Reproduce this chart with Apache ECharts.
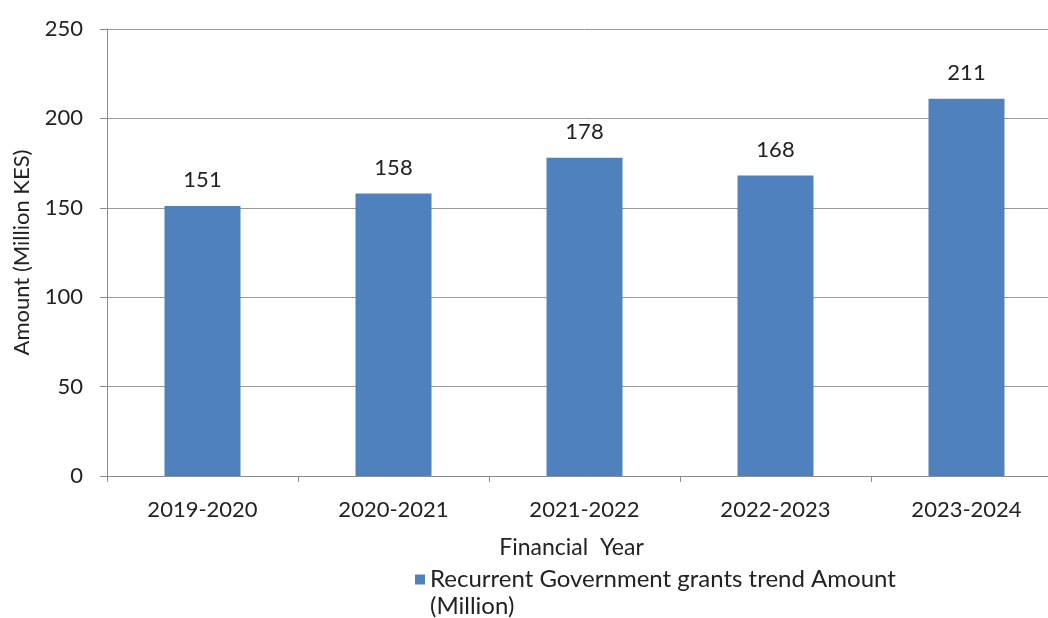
<!DOCTYPE html>
<html><head><meta charset="utf-8">
<script src="https://cdn.jsdelivr.net/npm/echarts@6/dist/echarts.min.js"></script>
<style>html,body{margin:0;padding:0;background:#fff;overflow:hidden}#c{width:1070px;height:618px}</style>
</head><body><div id="c"></div>
<script>
const categories = ['2019-2020','2020-2021','2021-2022','2022-2023','2023-2024'];
const amounts = [151, 158, 178, 168, 211];
const seriesName = 'Recurrent Government grants trend Amount\n(Million)';
const FONT = 'Lato';
const chart = echarts.init(document.getElementById('c'));
chart.setOption({
  animation: false,
  backgroundColor: '#fff',
  textStyle: {fontFamily: FONT},
  grid: {left: 107, top: 29, width: 955, height: 447, containLabel: false},
  legend: {
    data: [seriesName], left: 415, top: 566, padding: 0,
    icon: 'path://M0,0H10V10H0Z M0,37L10,37', itemWidth: 10, itemHeight: 37, itemGap: 8,
    textStyle: {fontFamily: FONT, fontSize: 24, color: '#222', lineHeight: 27}
  },
  xAxis: {
    type: 'category', data: categories,
    name: 'Financial  Year', nameLocation: 'middle', nameGap: 60,
    nameTextStyle: {fontFamily: FONT, fontSize: 23, color: '#222', padding: [0, 0, 0, -26]},
    axisLine: {lineStyle: {color: '#8c8c8c', width: 1}},
    axisTick: {show: true, length: 6, lineStyle: {color: '#8c8c8c'}},
    axisLabel: {fontFamily: FONT, fontSize: 22, color: '#222', margin: 23}
  },
  yAxis: {
    type: 'value', min: 0, max: 250, interval: 50,
    name: 'Amount (Million KES)', nameLocation: 'middle', nameGap: 74, nameRotate: 90,
    nameTextStyle: {fontFamily: FONT, fontSize: 22, color: '#222', padding: [0, 0, 0, 0]},
    axisLine: {show: true, lineStyle: {color: '#8c8c8c'}},
    axisTick: {show: true, length: 7, lineStyle: {color: '#8c8c8c'}},
    axisLabel: {fontFamily: FONT, fontSize: 22, color: '#222', margin: 24},
    splitLine: {lineStyle: {color: '#9a9a9a', width: 1}}
  },
  series: [{
    name: seriesName, type: 'bar', data: amounts, barWidth: 76,
    itemStyle: {color: '#4f81bd'},
    label: {show: true, position: 'top', distance: 15, fontFamily: FONT, fontSize: 22, color: '#222'}
  }]
});
</script></body></html>
